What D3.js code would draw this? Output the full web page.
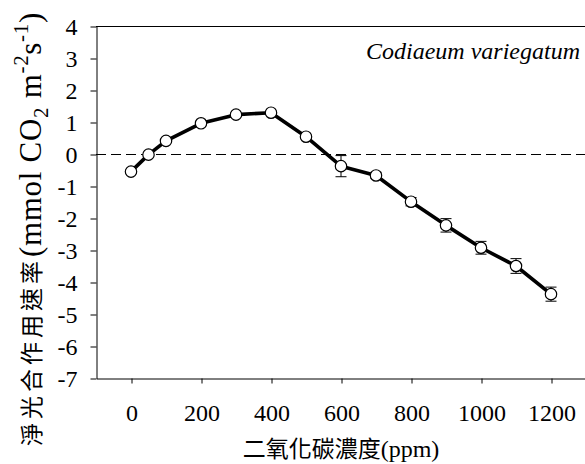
<!DOCTYPE html>
<html>
<head>
<meta charset="utf-8">
<script src="https://cdn.jsdelivr.net/npm/d3@7"></script>
<style>
  html, body { margin: 0; padding: 0; background: #fff; }
  svg { display: block; }
</style>
</head>
<body>
<svg id="chart" width="585" height="464"></svg>
<script>
// ---- data ----
const co2 = [0, 50, 100, 200, 300, 400, 500, 600, 700, 800, 900, 1000, 1100, 1200];
const netRate = [-0.55, -0.02, 0.41, 0.96, 1.23, 1.29, 0.54, -0.38, -0.67, -1.49, -2.23, -2.93, -3.5, -4.38];
const stdErr = [0.06, 0.05, 0.05, 0.05, 0.06, 0.06, 0.06, 0.33, 0.1, 0.13, 0.21, 0.2, 0.23, 0.22];
const xTicks = [0, 200, 400, 600, 800, 1000, 1200];
const yTicks = [4, 3, 2, 1, 0, -1, -2, -3, -4, -5, -6, -7];
const speciesName = "Codiaeum variegatum";
const xTitleCJK = "二氧化碳濃度";
const xTitleUnit = "(ppm)";
const yTitleCJK = "淨光合作用速率";

const SERIF = '"Times New Roman", "Liberation Serif", Tinos, "DejaVu Serif", serif';
const CJK = '"Noto Sans CJK TC", "Noto Sans CJK SC", sans-serif';

const svg = d3.select("#chart");
const x = d3.scaleLinear().domain([-100, 1300]).range([96, 586]);
const y = d3.scaleLinear().domain([-7, 4]).range([378, 26]);

// axes
const gx = svg.append("g").attr("transform", `translate(0.5,${y(-7) + 0.5})`)
  .call(d3.axisBottom(x).tickValues(xTicks).tickFormat(d3.format("d"))
    .tickSize(5).tickSizeOuter(0).tickPadding(20));
const gy = svg.append("g").attr("transform", `translate(${x(-100) + 0.5},0.5)`)
  .call(d3.axisLeft(y).tickValues(yTicks).tickFormat(d => d < 0 ? "-" + Math.abs(d) : String(d))
    .tickSize(6).tickSizeOuter(0).tickPadding(13));
[gx, gy].forEach(g => {
  g.attr("font-family", null);
  g.selectAll("path.domain").attr("stroke", "#000").attr("stroke-width", 1);
  g.selectAll(".tick line").attr("stroke", "#000").attr("stroke-width", 1);
  g.selectAll(".tick text").style("font-family", SERIF).style("font-size", "24px").attr("fill", "#000");
});

// top border
svg.append("line")
  .attr("x1", x(-100)).attr("x2", x(1300))
  .attr("y1", y(4) + 0.5).attr("y2", y(4) + 0.5)
  .attr("stroke", "#000").attr("stroke-width", 1);

// zero reference dashed line
svg.append("line")
  .attr("x1", x(-100)).attr("x2", x(1300))
  .attr("y1", y(0) + 0.5).attr("y2", y(0) + 0.5)
  .attr("stroke", "#000").attr("stroke-width", 1)
  .attr("stroke-dasharray", "10,5");

const pts = co2.map((c, i) => ({ c, v: netRate[i], e: stdErr[i] }));

// error bars
const eb = svg.append("g").attr("stroke", "#000").attr("stroke-width", 1);
pts.forEach(p => {
  eb.append("line").attr("x1", x(p.c)).attr("x2", x(p.c)).attr("y1", y(p.v + p.e)).attr("y2", y(p.v - p.e));
  [p.v + p.e, p.v - p.e].forEach(v => {
    eb.append("line").attr("x1", x(p.c) - 5.5).attr("x2", x(p.c) + 5.5).attr("y1", y(v)).attr("y2", y(v));
  });
});

// line
svg.append("path").datum(pts)
  .attr("fill", "none").attr("stroke", "#000").attr("stroke-width", 3.6)
  .attr("stroke-linejoin", "round")
  .attr("d", d3.line().x(d => x(d.c)).y(d => y(d.v)));

// markers
svg.append("g").selectAll("circle").data(pts).join("circle")
  .attr("cx", d => x(d.c)).attr("cy", d => y(d.v)).attr("r", 5.7)
  .attr("fill", "#fff").attr("stroke", "#000").attr("stroke-width", 1.2);

// species label
svg.append("text").attr("x", 580).attr("y", 59)
  .attr("text-anchor", "end")
  .style("font-family", SERIF).style("font-size", "24px").style("font-style", "italic")
  .attr("fill", "#000")
  .text(speciesName);

// x title
const xt = svg.append("text").attr("x", 341).attr("y", 457)
  .attr("text-anchor", "middle").attr("fill", "#000");
xt.append("tspan").style("font-family", CJK).style("font-size", "23px").text(xTitleCJK);
xt.append("tspan").style("font-family", SERIF).style("font-size", "24px").text(xTitleUnit);

// y title: CJK part
svg.append("text")
  .attr("transform", `translate(40,446) rotate(-90)`)
  .attr("text-anchor", "start").attr("fill", "#000")
  .style("font-family", CJK).style("font-size", "23px").attr("letter-spacing", 4)
  .text(yTitleCJK);

// y title: unit part, fitted from y=257 to y=12
const yt = svg.append("text")
  .attr("transform", `translate(41,257) rotate(-90)`)
  .attr("text-anchor", "start").attr("fill", "#000");
const lat = { "font-family": SERIF, "font-size": "31px" };
const sml = { "font-family": SERIF, "font-size": "21px" };
function ts(styles, txt, dy) {
  const t = yt.append("tspan").text(txt);
  Object.entries(styles).forEach(([k, v]) => t.style(k, v));
  if (dy) t.attr("dy", dy);
  return t;
}
ts(lat, "(mmol CO");
ts(sml, "2", 7);
ts(lat, " m", -7);
ts(sml, "-2", -13);
ts(lat, "s", 13);
ts(sml, "-1", -13);
ts(lat, ")", 13);
const target = 245;
const len = yt.node().getComputedTextLength();
const nChars = "(mmol CO2 m-2s-1)".length;
if (len < target) yt.attr("letter-spacing", (target - len) / nChars);
</script>
</body>
</html>
